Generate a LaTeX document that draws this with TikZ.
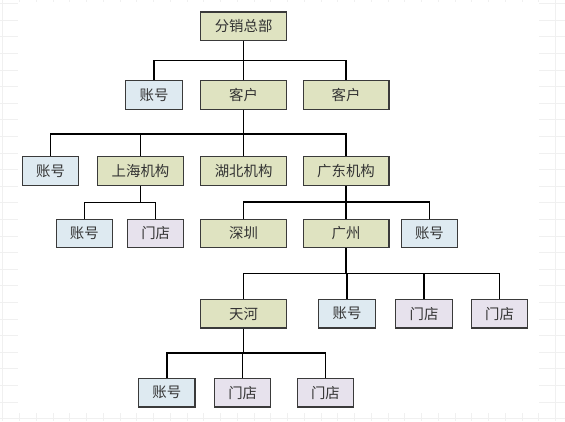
\documentclass[tikz,border=0pt]{standalone}
\usepackage{fontspec}
\usepackage{xcolor}
\usepackage{tikz}
\newfontfamily\cjk{Noto Sans CJK SC}
\definecolor{orgfill}{RGB}{223,227,193}
\definecolor{accfill}{RGB}{222,234,241}
\definecolor{shopfill}{RGB}{231,226,237}
\definecolor{boxline}{RGB}{58,58,58}
\tikzset{
  box/.style={draw=boxline, line width=1.2pt, inner sep=0pt, minimum height=28.6pt,
    font=\cjk\fontsize{14.4}{16}\selectfont, text=black!80},
  org/.style={box, fill=orgfill, minimum width=85.8pt},
  acct/.style={box, fill=accfill, minimum width=56.3pt},
  shop/.style={box, fill=shopfill, minimum width=56.3pt},
  link/.style={line width=1.4pt},
}

\begin{document}
\begin{tikzpicture}[x=1pt, y=-1pt]
  \useasboundingbox (0,0) rectangle (565,421);
  \fill[white] (0,0) rectangle (565,421);
  \foreach \i in {0,...,33} \draw[black!6] ({2.6+16.75*\i},0) -- ++(0,421);
  \foreach \j in {0,...,25} \draw[black!6] (0,{3.4+16.6*\j}) -- ++(565,0);
  \fill[white] (18,2) rectangle (538.5,413);

  \node[org] (hq) at (243.6,26.2) {分销总部};

  \node[acct] (acc1) at (154,95) {账号};
  \node[org] (cust1) at (243.6,95) {客户};
  \node[org] (cust2) at (346,95) {客户};

  \node[acct] (acc2) at (50.5,171) {账号};
  \node[org] (sh) at (140.5,171) {上海机构};
  \node[org] (hb) at (243.6,171) {湖北机构};
  \node[org] (gd) at (346,171) {广东机构};

  \node[acct] (acc3) at (84.3,233.5) {账号};
  \node[shop] (shop1) at (155.7,233.5) {门店};
  \node[org] (sz) at (243.6,233.5) {深圳};
  \node[org] (gz) at (346,233.5) {广州};
  \node[acct] (acc4) at (429.4,233.5) {账号};

  \node[org] (th) at (243.6,313.7) {天河};
  \node[acct] (acc5) at (347,313.7) {账号};
  \node[shop] (shop2) at (424,313.7) {门店};
  \node[shop] (shop3) at (499.6,313.7) {门店};

  \node[acct] (acc6) at (166.8,392.7) {账号};
  \node[shop] (shop4) at (242.7,392.7) {门店};
  \node[shop] (shop5) at (325.4,392.7) {门店};

  \foreach \c in {acc1,cust1,cust2} \draw[link] (hq.south) -- ++(0,19.6) -| (\c.north);
  \foreach \c in {acc2,sh,hb,gd} \draw[link] (cust1.south) -- ++(0,24) -| (\c.north);
  \foreach \c in {acc3,shop1} \draw[link] (sh.south) -- ++(0,16.7) -| (\c.north);
  \foreach \c in {sz,gz,acc4} \draw[link] (gd.south) -- ++(0,16) -| (\c.north);
  \foreach \c in {th,acc5,shop2,shop3} \draw[link] (gz.south) -- ++(0,25.3) -| (\c.north);
  \foreach \c in {acc6,shop4,shop5} \draw[link] (th.south) -- ++(0,24.4) -| (\c.north);
\end{tikzpicture}
\end{document}
